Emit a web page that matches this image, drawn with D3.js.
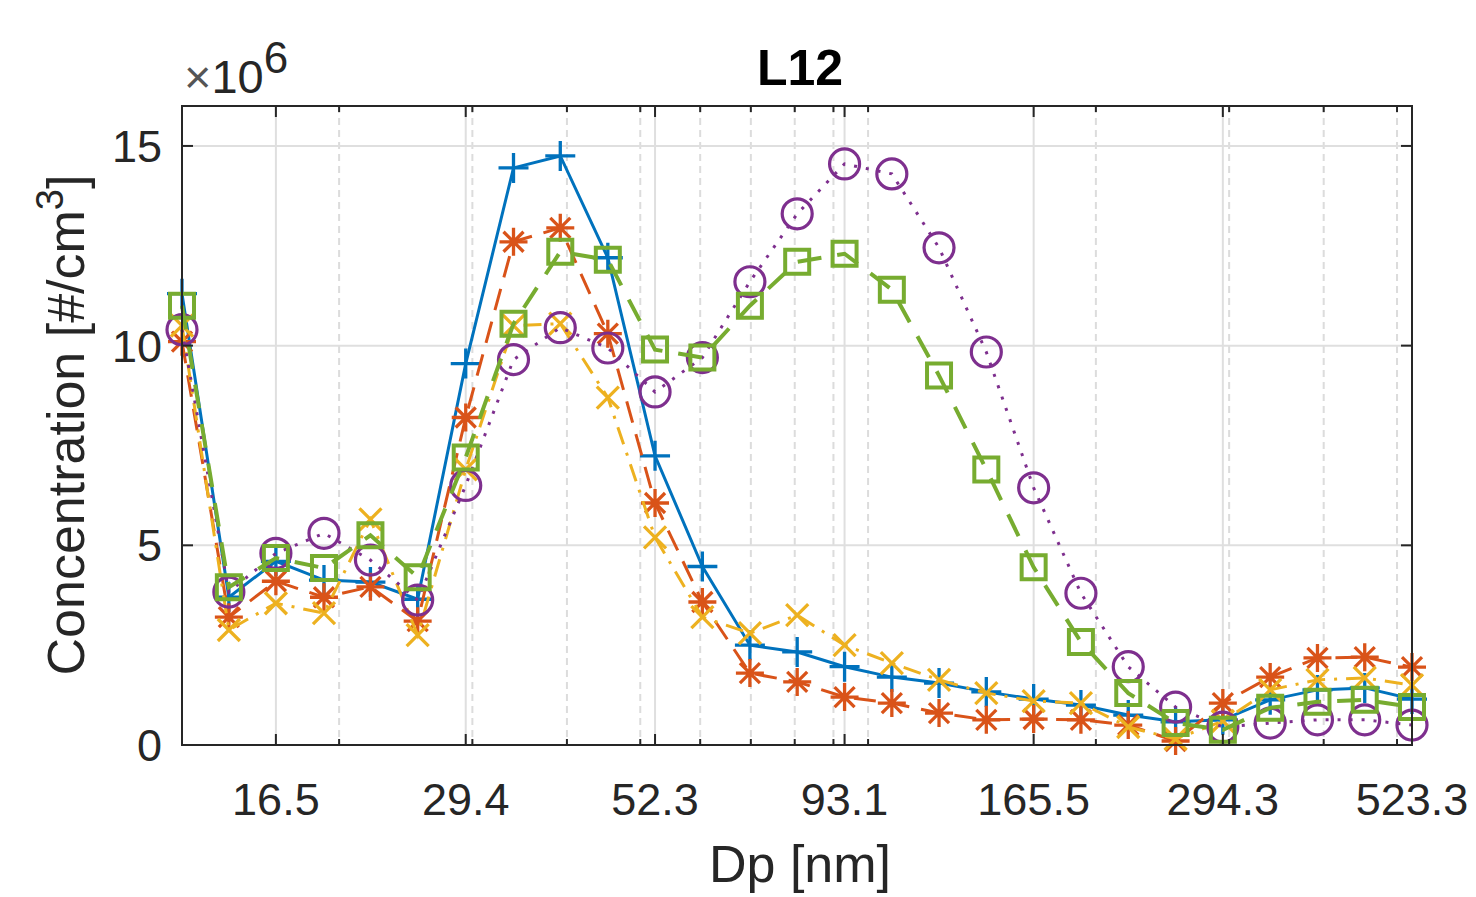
<!DOCTYPE html>
<html>
<head>
<meta charset="utf-8">
<script src="https://cdn.jsdelivr.net/npm/d3@7/dist/d3.min.js"></script>
<style>
  html, body { margin: 0; padding: 0; background: #fff; }
  svg { display: block; font-family: "Liberation Sans", Arial, Helvetica, sans-serif; }
</style>
</head>
<body>
<div id="chart"></div>
<script>
// particle diameter bins [nm]
var dp = [12.4, 14.3, 16.5, 19.1, 22.0, 25.4, 29.4, 34.0, 39.2, 45.3, 52.3, 60.4, 69.8, 80.6,
          93.1, 107.5, 124.1, 143.3, 165.5, 191.1, 220.7, 254.9, 294.3, 339.9, 392.5, 453.2, 523.3];

// concentration, x 10^6 #/cm3
var seriesBlue   = [11.3, 3.7, 4.6, 4.13, 4.08, 3.65, 9.55, 14.45, 14.75, 12.2, 7.24, 4.47, 2.5, 2.33,
                    1.96, 1.7, 1.55, 1.33, 1.15, 1.0, 0.75, 0.58, 0.63, 1.13, 1.38, 1.43, 1.15];
var seriesOrange = [10.1, 3.2, 4.1, 3.7, 3.96, 3.1, 8.2, 12.6, 12.95, 10.3, 6.06, 3.58, 1.8, 1.58,
                    1.2, 1.05, 0.8, 0.63, 0.65, 0.63, 0.5, 0.1, 1.05, 1.7, 2.18, 2.2, 1.95];
var seriesYellow = [10.5, 2.88, 3.55, 3.3, 5.65, 2.75, 6.9, 10.5, 10.55, 8.7, 5.2, 3.2, 2.8, 3.25,
                    2.5, 2.05, 1.63, 1.3, 1.1, 1.05, 0.45, 0.15, 0.6, 1.38, 1.63, 1.68, 1.5];
var seriesPurple = [10.4, 3.83, 4.8, 5.3, 4.63, 3.63, 6.5, 9.65, 10.45, 9.94, 8.84, 9.7, 11.6, 13.3,
                    14.55, 14.3, 12.45, 9.84, 6.44, 3.8, 1.96, 0.95, 0.45, 0.55, 0.63, 0.63, 0.5];
var seriesGreen  = [11.0, 3.95, 4.68, 4.43, 5.25, 4.2, 7.2, 10.55, 12.35, 12.15, 9.9, 9.7, 11.0, 12.1,
                    12.3, 11.4, 9.25, 6.9, 4.45, 2.58, 1.3, 0.55, 0.38, 0.93, 1.08, 1.13, 0.95];

var xTicks = [16.5, 29.4, 52.3, 93.1, 165.5, 294.3, 523.3];
var xMinor = [20, 30, 40, 50, 60, 70, 80, 90, 100, 200, 300, 400, 500];
var yTicks = [0, 5, 10, 15];

var W = 1476, H = 897;
var m = { left: 182, right: 1412, top: 106, bottom: 745 };

var svg = d3.select('#chart').append('svg')
    .attr('width', W)
    .attr('height', H);

svg.append('rect').attr('width', W).attr('height', H).attr('fill', '#fff');

var x = d3.scaleLog().domain([dp[0], dp[dp.length - 1]]).range([m.left, m.right]);
var y = d3.scaleLinear().domain([0, 16]).range([m.bottom, m.top]);

// grid
var grid = svg.append('g');
grid.selectAll('line.minor').data(xMinor).enter().append('line')
    .attr('x1', x).attr('x2', x)
    .attr('y1', m.top).attr('y2', m.bottom)
    .attr('stroke', '#dcdcdc').attr('stroke-width', 2)
    .attr('stroke-dasharray', '7,5');
grid.selectAll('line.major').data(xTicks).enter().append('line')
    .attr('x1', x).attr('x2', x)
    .attr('y1', m.top).attr('y2', m.bottom)
    .attr('stroke', '#dfdfdf').attr('stroke-width', 2);
grid.selectAll('line.ymajor').data(yTicks.slice(1)).enter().append('line')
    .attr('x1', m.left).attr('x2', m.right)
    .attr('y1', y).attr('y2', y)
    .attr('stroke', '#dfdfdf').attr('stroke-width', 2);

// series
var series = [
  { values: seriesBlue,   color: '#0072BD', dash: null,           width: 3, marker: 'plus' },
  { values: seriesOrange, color: '#D95319', dash: '22,12',        width: 3, marker: 'star' },
  { values: seriesYellow, color: '#EDB120', dash: '18,9,3,9',     width: 3, marker: 'cross' },
  { values: seriesPurple, color: '#7E2F8E', dash: '3,9',          width: 3, marker: 'circle' },
  { values: seriesGreen,  color: '#77AC30', dash: '24,16',        width: 4, marker: 'square' }
];

var markerPath = {
  plus:  'M-15,0H15M0,-15V15',
  star:  'M-14,0H14M0,-14V14M-10,-10L10,10M-10,10L10,-10',
  cross: 'M-11,-11L11,11M-11,11L11,-11',
  square: 'M-12,-12H12V12H-12Z'
};

var line = d3.line()
    .x(function (d, i) { return x(dp[i]); })
    .y(function (d) { return y(d); });

series.forEach(function (s) {
  var g = svg.append('g');
  g.append('path')
      .attr('d', line(s.values))
      .attr('fill', 'none')
      .attr('stroke', s.color)
      .attr('stroke-width', s.width)
      .attr('stroke-dasharray', s.dash);

  var pts = g.selectAll('.pt').data(s.values).enter();
  if (s.marker === 'circle') {
    pts.append('circle')
        .attr('cx', function (d, i) { return x(dp[i]); })
        .attr('cy', function (d) { return y(d); })
        .attr('r', 15)
        .attr('fill', 'none')
        .attr('stroke', s.color)
        .attr('stroke-width', 3.2);
  } else {
    pts.append('path')
        .attr('transform', function (d, i) { return 'translate(' + x(dp[i]) + ',' + y(d) + ')'; })
        .attr('d', markerPath[s.marker])
        .attr('fill', 'none')
        .attr('stroke', s.color)
        .attr('stroke-width', s.marker === 'square' ? 4 : 3.3);
  }
});

// box + ticks
var axisColor = '#262626';
svg.append('rect')
    .attr('x', m.left).attr('y', m.top)
    .attr('width', m.right - m.left).attr('height', m.bottom - m.top)
    .attr('fill', 'none').attr('stroke', axisColor).attr('stroke-width', 2);

var ticks = svg.append('g').attr('stroke', axisColor).attr('stroke-width', 2);
[m.bottom, m.top].forEach(function (yy) {
  var dir = yy === m.bottom ? -1 : 1;
  ticks.selectAll(null).data(xTicks).enter().append('line')
      .attr('x1', x).attr('x2', x)
      .attr('y1', yy).attr('y2', yy + dir * 11);
  ticks.selectAll(null).data(xMinor).enter().append('line')
      .attr('x1', x).attr('x2', x)
      .attr('y1', yy).attr('y2', yy + dir * 6);
});
[m.left, m.right].forEach(function (xx) {
  var dir = xx === m.left ? 1 : -1;
  ticks.selectAll(null).data(yTicks).enter().append('line')
      .attr('x1', xx).attr('x2', xx + dir * 11)
      .attr('y1', y).attr('y2', y);
});

// tick labels
svg.append('g').selectAll('text').data(xTicks).enter().append('text')
    .attr('x', x).attr('y', 815)
    .attr('text-anchor', 'middle')
    .attr('font-size', 45)
    .attr('fill', axisColor)
    .text(function (d) { return d.toFixed(1); });

svg.append('g').selectAll('text').data(yTicks).enter().append('text')
    .attr('x', 162).attr('y', function (d) { return y(d) + 16; })
    .attr('text-anchor', 'end')
    .attr('font-size', 45)
    .attr('fill', axisColor)
    .text(function (d) { return d; });

// exponent
var exp = svg.append('text')
    .attr('x', 184).attr('y', 93)
    .attr('font-size', 47)
    .attr('fill', axisColor);
exp.append('tspan').attr('font-weight', 300).attr('fill', '#555').text('\u00d7');
exp.append('tspan').text('10');
exp.append('tspan').attr('font-size', 44).attr('dy', -20).text('6');

// axis labels
svg.append('text')
    .attr('x', (m.left + m.right) / 2 + 3).attr('y', 882)
    .attr('text-anchor', 'middle')
    .attr('font-size', 52)
    .attr('fill', axisColor)
    .text('Dp [nm]');

var yl = svg.append('text')
    .attr('transform', 'translate(84,' + 425 + ') rotate(-90)')
    .attr('text-anchor', 'middle')
    .attr('font-size', 52)
    .attr('fill', axisColor);
yl.append('tspan').text('Concentration [#/cm');
yl.append('tspan').attr('font-size', 38).attr('dy', -21).text('3');
yl.append('tspan').attr('dy', 21).text(']');

// title
svg.append('text')
    .attr('x', 800).attr('y', 85)
    .attr('text-anchor', 'middle')
    .attr('font-size', 50)
    .attr('font-weight', 'bold')
    .attr('fill', '#000')
    .text('L12');
</script>
</body>
</html>
